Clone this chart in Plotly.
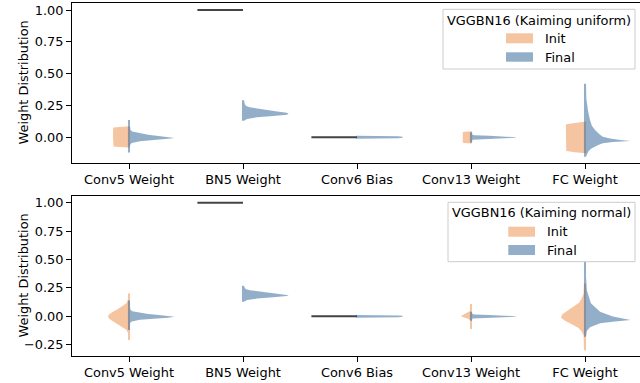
import plotly.graph_objects as go
from plotly.subplots import make_subplots

# ---------------- data ----------------
CATEGORIES = ["Conv5 Weight", "BN5 Weight", "Conv6 Bias", "Conv13 Weight", "FC Weight"]
SERIES = ["Init", "Final"]
PANEL_TITLES = ["VGGBN16 (Kaiming uniform)", "VGGBN16 (Kaiming normal)"]
Y_TICKS_TOP = [0.0, 0.25, 0.5, 0.75, 1.0]
Y_TICKS_BOTTOM = [-0.25, 0.0, 0.25, 0.5, 0.75, 1.0]

# Density profiles: weight value -> relative half-width (1 = widest violin)
# --- Kaiming uniform panel ---
U_INIT_CONV5_Y = [0.086, 0.081, 0.076, 0.06, 0.0, -0.06, -0.073, -0.077, -0.080]
U_INIT_CONV5_W = [0.0, 0.2, 0.34, 0.35, 0.35, 0.35, 0.34, 0.2, 0.0]
U_FINAL_CONV5_Y = [0.136, 0.09, 0.06, 0.045, 0.031, 0.02, 0.013, 0.005, -0.005, -0.012, -0.019, -0.031, -0.045, -0.06, -0.09, -0.12]
U_FINAL_CONV5_W = [0.0, 0.01, 0.03, 0.07, 0.24, 0.42, 0.6, 0.82, 1.0, 0.85, 0.6, 0.24, 0.06, 0.02, 0.01, 0.0]
U_INIT_BN5_CONST = 1.0
U_FINAL_BN5_Y = [0.29, 0.26, 0.245, 0.236, 0.225, 0.214, 0.203, 0.193, 0.185, 0.178, 0.172, 0.167, 0.157, 0.144, 0.13]
U_FINAL_BN5_W = [0.0, 0.04, 0.07, 0.15, 0.33, 0.53, 0.75, 0.96, 1.0, 0.96, 0.83, 0.66, 0.31, 0.09, 0.0]
U_INIT_CONV6_CONST = 0.0
U_FINAL_CONV6_Y = [0.012, 0.008, 0.004, 0.0, -0.004, -0.008, -0.012]
U_FINAL_CONV6_W = [0.0, 0.9, 1.0, 1.0, 1.0, 0.9, 0.0]
U_INIT_CONV13_Y = [0.047, 0.043, 0.038, 0.0, -0.04, -0.045, -0.049]
U_INIT_CONV13_W = [0.0, 0.15, 0.18, 0.18, 0.18, 0.15, 0.0]
U_FINAL_CONV13_Y = [0.04, 0.02, 0.016, 0.012, 0.008, 0.004, 0.0, -0.004, -0.008, -0.012, -0.016, -0.02, -0.04]
U_FINAL_CONV13_W = [0.0, 0.03, 0.08, 0.4, 0.75, 0.95, 1.0, 0.95, 0.75, 0.4, 0.08, 0.03, 0.0]
U_INIT_FC_Y = [0.123, 0.112, 0.102, 0.09, 0.0, -0.09, -0.108, -0.118, -0.126]
U_INIT_FC_W = [0.0, 0.22, 0.41, 0.42, 0.42, 0.42, 0.41, 0.22, 0.0]
U_FINAL_FC_Y = [0.42, 0.3, 0.267, 0.2, 0.136, 0.09, 0.057, 0.025, 0.005, -0.01, -0.021, -0.029, -0.038, -0.047, -0.06, -0.074, -0.09, -0.113, -0.152]
U_FINAL_FC_W = [0.0, 0.03, 0.04, 0.07, 0.11, 0.15, 0.22, 0.31, 0.39, 0.55, 0.77, 1.0, 0.61, 0.39, 0.29, 0.22, 0.13, 0.07, 0.0]

# --- Kaiming normal panel ---
N_INIT_CONV5_Y = [0.20, 0.15, 0.12, 0.10, 0.08, 0.06, 0.04, 0.02, 0.0, -0.02, -0.04, -0.06, -0.08, -0.10, -0.12, -0.15, -0.21]
N_INIT_CONV5_W = [0.0, 0.02, 0.05, 0.11, 0.18, 0.26, 0.35, 0.43, 0.46, 0.44, 0.37, 0.29, 0.19, 0.11, 0.05, 0.02, 0.0]
N_FINAL_CONV5_Y = [0.138, 0.09, 0.06, 0.045, 0.031, 0.02, 0.013, 0.005, -0.005, -0.012, -0.019, -0.031, -0.045, -0.06, -0.09, -0.12]
N_FINAL_CONV5_W = [0.0, 0.01, 0.03, 0.07, 0.24, 0.42, 0.6, 0.82, 1.0, 0.85, 0.6, 0.24, 0.06, 0.02, 0.01, 0.0]
N_INIT_BN5_CONST = 1.0
N_FINAL_BN5_Y = [0.27, 0.25, 0.238, 0.23, 0.222, 0.212, 0.202, 0.193, 0.186, 0.179, 0.173, 0.167, 0.157, 0.144, 0.129]
N_FINAL_BN5_W = [0.0, 0.04, 0.07, 0.15, 0.33, 0.53, 0.75, 0.96, 1.0, 0.96, 0.83, 0.66, 0.31, 0.09, 0.0]
N_INIT_CONV6_CONST = 0.0
N_FINAL_CONV6_Y = [0.012, 0.008, 0.004, 0.0, -0.004, -0.008, -0.012]
N_FINAL_CONV6_W = [0.0, 0.9, 1.0, 1.0, 1.0, 0.9, 0.0]
N_INIT_CONV13_Y = [0.109, 0.07, 0.047, 0.035, 0.02, 0.008, 0.002, -0.006, -0.015, -0.025, -0.035, -0.07, -0.112]
N_INIT_CONV13_W = [0.0, 0.01, 0.02, 0.07, 0.13, 0.2, 0.22, 0.18, 0.11, 0.05, 0.02, 0.01, 0.0]
N_FINAL_CONV13_Y = [0.04, 0.02, 0.016, 0.012, 0.008, 0.004, 0.0, -0.004, -0.008, -0.012, -0.016, -0.02, -0.04]
N_FINAL_CONV13_W = [0.0, 0.03, 0.08, 0.4, 0.75, 0.95, 1.0, 0.95, 0.75, 0.4, 0.08, 0.03, 0.0]
N_INIT_FC_Y = [0.29, 0.2, 0.16, 0.12, 0.085, 0.05, 0.02, -0.01, -0.04, -0.07, -0.1, -0.13, -0.17, -0.30]
N_INIT_FC_W = [0.0, 0.03, 0.07, 0.13, 0.26, 0.39, 0.49, 0.53, 0.44, 0.29, 0.15, 0.08, 0.03, 0.0]
N_FINAL_FC_Y = [0.49, 0.35, 0.23, 0.115, 0.04, -0.003, -0.02, -0.033, -0.045, -0.062, -0.097, -0.13, -0.18]
N_FINAL_FC_W = [0.0, 0.02, 0.04, 0.13, 0.33, 0.61, 0.83, 1.0, 0.66, 0.33, 0.11, 0.04, 0.0]

# ---------------- style ----------------
INIT_COLOR = "rgba(235,137,65,0.5)"
FINAL_COLOR = "rgba(39,93,147,0.5)"
CONST_COLOR = "#444444"
MAX_HALF_WIDTH = 0.4
MIN_HALF = 0.009
FONT = "DejaVu Sans"
FS = 12.9

W, H = 640, 383
L, R, T, B = 72, 0, 3, 27
PLOT_W = W - L - R
PLOT_H = H - T - B

fig = make_subplots(rows=2, cols=1)


def half_violin(row, cat, side, ys, ws, color, name):
    xs = [cat - side * MIN_HALF]
    xs += [cat + side * max(w * MAX_HALF_WIDTH, MIN_HALF) for w in ws]
    xs += [cat - side * MIN_HALF]
    yy = [ys[0]] + list(ys) + [ys[-1]]
    fig.add_trace(go.Scatter(x=xs, y=yy, mode="lines", fill="toself", fillcolor=color,
                             line=dict(width=0, color=color), name=name,
                             hoverinfo="skip", showlegend=False), row=row, col=1)


def const_line(row, cat, side, value, name):
    fig.add_trace(go.Scatter(x=[cat, cat + side * MAX_HALF_WIDTH], y=[value, value], mode="lines",
                             line=dict(width=2, color=CONST_COLOR), name=name,
                             hoverinfo="skip", showlegend=False), row=row, col=1)


# uniform panel (row 1)
half_violin(1, 0, -1, U_INIT_CONV5_Y, U_INIT_CONV5_W, INIT_COLOR, SERIES[0])
half_violin(1, 0, 1, U_FINAL_CONV5_Y, U_FINAL_CONV5_W, FINAL_COLOR, SERIES[1])
const_line(1, 1, -1, U_INIT_BN5_CONST, SERIES[0])
half_violin(1, 1, 1, U_FINAL_BN5_Y, U_FINAL_BN5_W, FINAL_COLOR, SERIES[1])
const_line(1, 2, -1, U_INIT_CONV6_CONST, SERIES[0])
half_violin(1, 2, 1, U_FINAL_CONV6_Y, U_FINAL_CONV6_W, FINAL_COLOR, SERIES[1])
half_violin(1, 3, -1, U_INIT_CONV13_Y, U_INIT_CONV13_W, INIT_COLOR, SERIES[0])
half_violin(1, 3, 1, U_FINAL_CONV13_Y, U_FINAL_CONV13_W, FINAL_COLOR, SERIES[1])
half_violin(1, 4, -1, U_INIT_FC_Y, U_INIT_FC_W, INIT_COLOR, SERIES[0])
half_violin(1, 4, 1, U_FINAL_FC_Y, U_FINAL_FC_W, FINAL_COLOR, SERIES[1])

# normal panel (row 2)
half_violin(2, 0, -1, N_INIT_CONV5_Y, N_INIT_CONV5_W, INIT_COLOR, SERIES[0])
half_violin(2, 0, 1, N_FINAL_CONV5_Y, N_FINAL_CONV5_W, FINAL_COLOR, SERIES[1])
const_line(2, 1, -1, N_INIT_BN5_CONST, SERIES[0])
half_violin(2, 1, 1, N_FINAL_BN5_Y, N_FINAL_BN5_W, FINAL_COLOR, SERIES[1])
const_line(2, 2, -1, N_INIT_CONV6_CONST, SERIES[0])
half_violin(2, 2, 1, N_FINAL_CONV6_Y, N_FINAL_CONV6_W, FINAL_COLOR, SERIES[1])
half_violin(2, 3, -1, N_INIT_CONV13_Y, N_INIT_CONV13_W, INIT_COLOR, SERIES[0])
half_violin(2, 3, 1, N_FINAL_CONV13_Y, N_FINAL_CONV13_W, FINAL_COLOR, SERIES[1])
half_violin(2, 4, -1, N_INIT_FC_Y, N_INIT_FC_W, INIT_COLOR, SERIES[0])
half_violin(2, 4, 1, N_FINAL_FC_Y, N_FINAL_FC_W, FINAL_COLOR, SERIES[1])


def px_x(px):
    return (px - L) / PLOT_W


def px_y(py):
    return (H - B - py) / PLOT_H


axis_common = dict(showline=True, linecolor="black", linewidth=1, ticks="outside", ticklen=5,
                   tickwidth=1, tickcolor="black", showgrid=False, zeroline=False,
                   tickfont=dict(family=FONT, size=FS, color="black"))

fig.update_xaxes(range=[-0.5, 4.4825], tickmode="array", tickvals=list(range(len(CATEGORIES))),
                 ticktext=CATEGORIES, mirror=True, **axis_common)
fig.update_yaxes(mirror=False, tickformat=".2f", **axis_common)
fig.update_yaxes(range=[-0.202, 1.055], tickvals=Y_TICKS_TOP, row=1, col=1)
fig.update_yaxes(range=[-0.35, 1.06], tickvals=Y_TICKS_BOTTOM, row=2, col=1)

top_dom = [px_y(163), 1.0]
bot_dom = [0.0, px_y(196)]
fig.update_layout(yaxis=dict(domain=top_dom), yaxis2=dict(domain=bot_dom),
                  xaxis=dict(domain=[0, 1]), xaxis2=dict(domain=[0, 1]))

annotations = []
shapes = []
# y axis titles
for dom in (top_dom, bot_dom):
    annotations.append(dict(text="Weight Distribution", xref="paper", yref="paper",
                            x=px_x(22.5), y=(dom[0] + dom[1]) / 2, xanchor="center", yanchor="middle",
                            textangle=-90, showarrow=False,
                            font=dict(family=FONT, size=FS, color="black")))

# legends (drawn per panel)
legend_specs = [
    dict(box=(443, 9.3, 635, 69), title_xy=(539, 20.3), patch_x=(506, 533),
         rows=[(33.3, 43.3), (52.3, 61.7)], text_x=543),
    dict(box=(448, 202.3, 635, 261.7), title_xy=(541.3, 212.7), patch_x=(508.3, 535),
         rows=[(226.7, 236.7), (245, 255)], text_x=545),
]
for title, spec in zip(PANEL_TITLES, legend_specs):
    x0, y0, x1, y1 = spec["box"]
    shapes.append(dict(type="rect", xref="paper", yref="paper", x0=px_x(x0), x1=px_x(x1),
                       y0=px_y(y1), y1=px_y(y0), fillcolor="rgba(255,255,255,0.8)",
                       line=dict(color="#cccccc", width=1), layer="above"))
    annotations.append(dict(text=title, xref="paper", yref="paper", x=px_x(spec["title_xy"][0]),
                            y=px_y(spec["title_xy"][1]), xanchor="center", yanchor="middle",
                            showarrow=False, font=dict(family=FONT, size=FS, color="black")))
    for name, color, (ry0, ry1) in zip(SERIES, [INIT_COLOR, FINAL_COLOR], spec["rows"]):
        shapes.append(dict(type="rect", xref="paper", yref="paper",
                           x0=px_x(spec["patch_x"][0]), x1=px_x(spec["patch_x"][1]),
                           y0=px_y(ry1), y1=px_y(ry0), fillcolor=color, line=dict(width=0),
                           layer="above"))
        annotations.append(dict(text=name, xref="paper", yref="paper", x=px_x(spec["text_x"]),
                                y=px_y((ry0 + ry1) / 2), xanchor="left", yanchor="middle",
                                showarrow=False, font=dict(family=FONT, size=FS, color="black")))

fig.update_layout(width=W, height=H, margin=dict(l=L, r=R, t=T, b=B, autoexpand=False),
                  plot_bgcolor="white", paper_bgcolor="white", showlegend=False,
                  font=dict(family=FONT, size=FS, color="black"),
                  annotations=annotations, shapes=shapes)

fig.write_html("out.html", config={"displayModeBar": False},
               post_script="document.body.style.margin='0';document.body.style.overflow='hidden';")
